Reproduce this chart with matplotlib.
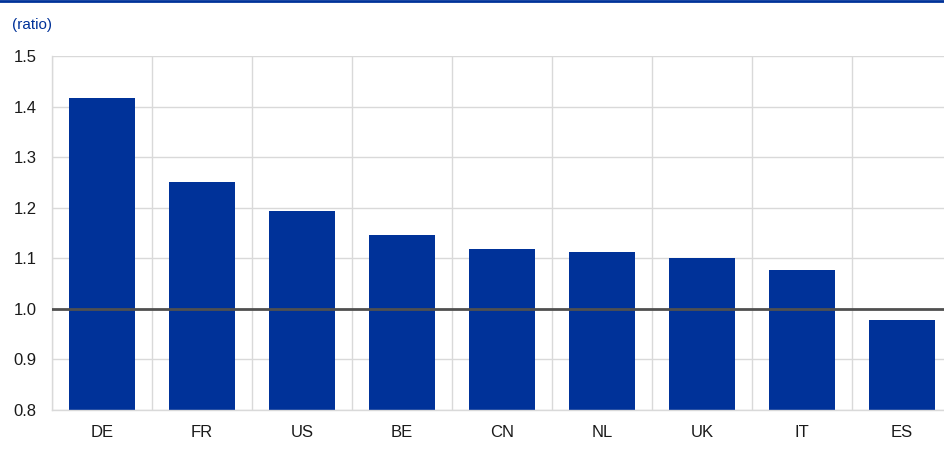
import numpy as np
from matplotlib import pyplot as plt

plt.rcParams["font.family"] = ["Liberation Sans", "DejaVu Sans"]

# data
countries = ["DE", "FR", "US", "BE", "CN", "NL", "UK", "IT", "ES"]
ratios = [1.417, 1.251, 1.194, 1.146, 1.118, 1.113, 1.101, 1.077, 0.978]
y_ticks = [0.8, 0.9, 1.0, 1.1, 1.2, 1.3, 1.4, 1.5]

BAR_BLUE = "#003299"
GRID = "#d9d9d9"

fig = plt.figure(figsize=(9.44, 4.5), dpi=100)
ax = fig.add_axes([52 / 944, 1 - 410 / 450, 900 / 944, 354 / 450])

x = np.arange(len(countries))
ax.bar(x, ratios, width=0.66, color=BAR_BLUE, zorder=2)
ax.axhline(1.0, color="#505050", linewidth=2, zorder=3)

ax.set_xlim(-0.5, len(countries) - 0.5)
ax.set_ylim(0.8, 1.5)
ax.set_yticks(y_ticks)
ax.set_yticklabels([f"{v:.1f}" for v in y_ticks])
ax.set_xticks(x)
ax.set_xticklabels(countries)
ax.set_xticks(np.arange(len(countries) + 1) - 0.5, minor=True)

ax.grid(axis="y", which="major", color=GRID, linewidth=1, zorder=0)
ax.grid(axis="x", which="minor", color=GRID, linewidth=1, zorder=0)
ax.tick_params(axis="both", which="both", length=0, labelsize=12, colors="#1a1a1a")
ax.tick_params(axis="x", pad=11)
ax.tick_params(axis="y", pad=11)

for side in ["top", "right"]:
    ax.spines[side].set_visible(False)
for side in ["left", "bottom"]:
    ax.spines[side].set_color(GRID)
    ax.spines[side].set_linewidth(1)

# header line and unit label
fig.add_artist(plt.Line2D([0, 1], [0.998, 0.998], color=BAR_BLUE, linewidth=2))
fig.text(12 / 944, 1 - 25 / 450, "(ratio)", color=BAR_BLUE, fontsize=11, va="center", ha="left")

fig.savefig("out.png", dpi=100)
